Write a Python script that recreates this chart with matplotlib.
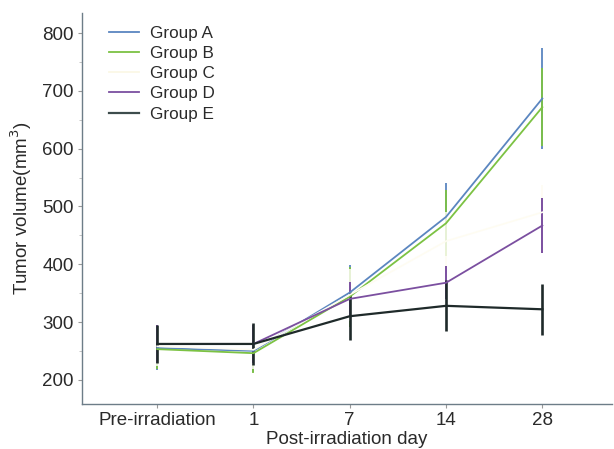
import matplotlib
matplotlib.use("Agg")
import matplotlib.pyplot as plt
from matplotlib.ticker import MultipleLocator
from matplotlib.lines import Line2D

plt.rcParams['font.family'] = ['Liberation Sans', 'DejaVu Sans']

categories = ["Pre-irradiation", "1", "7", "14", "28"]
groups = ["Group A", "Group B", "Group C", "Group D", "Group E"]
colors = ["#5b86c0", "#7cc243", "#fefcf2", "#7b4fa0", "#1f2a2a"]

means_A = [255, 250, 351, 482, 687]
means_B = [253, 246, 344, 471, 672]
means_C = [258, 252, 347, 440, 490]
means_D = [262, 262, 340, 368, 467]
means_E = [262, 262, 310, 328, 322]

err_A = [38, 37, 48, 58, 88]
err_B = [35, 34, 52, 57, 68]
err_C = [34, 34, 45, 50, 47]
err_D = [33, 33, 30, 29, 47]
err_E = [33, 36, 42, 44, 44]

means = [means_A, means_B, means_C, means_D, means_E]
errs = [err_A, err_B, err_C, err_D, err_E]
lws = [1.3, 1.3, 1.2, 1.3, 1.6]
elw = [1.3, 1.3, 1.2, 1.4, 1.9]

fig = plt.figure(figsize=(6.14, 4.49), dpi=100)
ax = fig.add_axes([0.1336, 0.1002, 0.8634, 0.8708])

x = list(range(len(categories)))
for g, m, e, c, lw, el in zip(groups, means, errs, colors, lws, elw):
    ax.errorbar(x, m, yerr=e, color=c, lw=lw, elinewidth=el, capsize=0, label=g)

ax.set_xlim(-0.78, 4.725)
ax.set_ylim(158, 835)
ax.set_xticks(x)
ax.set_xticklabels(categories)
ax.yaxis.set_major_locator(MultipleLocator(100))
ax.yaxis.set_minor_locator(MultipleLocator(50))
ax.set_yticks([200, 300, 400, 500, 600, 700, 800])

spine_color = "#6d7d88"
for s in ["top", "right"]:
    ax.spines[s].set_visible(False)
for s in ["left", "bottom"]:
    ax.spines[s].set_color(spine_color)
    ax.spines[s].set_linewidth(1.0)
ax.tick_params(axis='both', which='major', direction='out', length=3, color="#999999",
               labelsize=13.5, labelcolor="#2a2a2a", pad=3)
ax.tick_params(axis='y', which='minor', direction='out', length=2, color="#bbbbbb")

ax.set_xlabel("Post-irradiation day", fontsize=13.5, color="#2a2a2a", labelpad=1)
ax.set_ylabel("Tumor volume(mm$^3$)", fontsize=13.5, color="#2a2a2a", labelpad=6)

hl = [Line2D([0], [0], color=c, lw=1.3) for c in colors]
hl[2] = Line2D([0], [0], color="#fbf8e6", lw=1.3)
hl[4] = Line2D([0], [0], color="#3d4c4c", lw=1.6)
leg = ax.legend(hl, groups, loc="upper left", bbox_to_anchor=(0.021, 1.006), frameon=False,
                fontsize=12.3, handlelength=1.8, handletextpad=0.6, labelspacing=0.3,
                labelcolor="#2a2a2a")

fig.savefig("out.png", dpi=100)
